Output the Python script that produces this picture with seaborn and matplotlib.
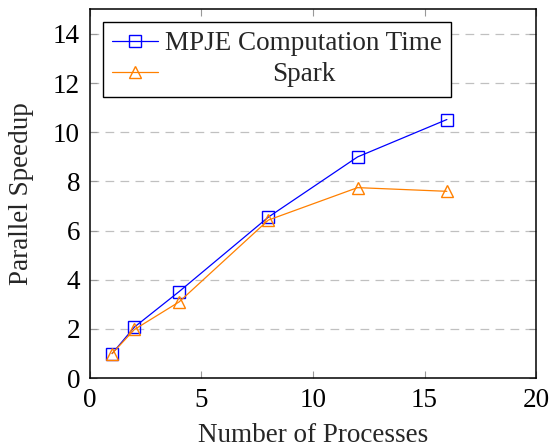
import matplotlib
matplotlib.use("Agg")
import matplotlib.pyplot as plt
import seaborn as sns
import pandas as pd

processes = [1, 2, 4, 8, 12, 16]
mpje_speedup = [1.0, 2.08, 3.52, 6.55, 9.0, 10.52]
spark_speedup = [1.0, 1.98, 3.1, 6.43, 7.75, 7.6]
series_names = ["MPJE Computation Time", "Spark"]
x_ticks = [0, 5, 10, 15, 20]
y_ticks = [0, 2, 4, 6, 8, 10, 12, 14]

sns.set_theme(style="white")
plt.rcParams["font.family"] = ["Liberation Serif", "DejaVu Serif"]

FS = 19.5
fig = plt.figure(figsize=(5.51, 4.47), dpi=100)
ax = fig.add_axes([0.163, 0.154, 0.81, 0.825])

df_m = pd.DataFrame({"x": processes, "y": mpje_speedup})
df_s = pd.DataFrame({"x": processes, "y": spark_speedup})

sns.lineplot(data=df_m, x="x", y="y", ax=ax, color="#0000ff", marker="s",
             markersize=8.5, mfc="none", mec="#0000ff", mew=1.0, lw=0.9,
             label=series_names[0])
sns.lineplot(data=df_s, x="x", y="y", ax=ax, color="#ff8000", marker="^",
             markersize=8, mfc="none", mec="#ff8000", mew=1.0, lw=0.9,
             label=series_names[1])

ax.set_xlim(0, 20)
ax.set_ylim(0, 15)
ax.set_xticks(x_ticks)
ax.set_yticks(y_ticks)
ax.tick_params(direction="in", length=5, width=0.8, color="#999999",
               top=True, right=True, bottom=True, left=True,
               labelsize=FS, labelcolor="black", pad=7)
for t in ax.get_yticks():
    if t > 0:
        ax.axhline(t, color="#c0c0c0", lw=0.9, ls=(0, (7, 5)), zorder=0)
for s in ax.spines.values():
    s.set_color("black")
    s.set_linewidth(1.1)
ax.set_xlabel("Number of Processes", fontsize=FS, labelpad=7)
ax.set_ylabel("Parallel Speedup", fontsize=FS, labelpad=14)

leg = ax.legend(loc="upper left", bbox_to_anchor=(0.029, 0.966), fontsize=FS,
                frameon=True, fancybox=False, edgecolor="black",
                framealpha=1, handlelength=1.7, handletextpad=0.25,
                borderpad=0.35, labelspacing=0.22, borderaxespad=0)
leg.get_frame().set_linewidth(1.0)

fig.canvas.draw()
r = fig.canvas.get_renderer()
texts = leg.get_texts()
w0 = texts[0].get_window_extent(r).width
w1 = texts[1].get_window_extent(r).width
texts[1].set_x((w0 - w1) / 2)

fig.savefig("out.png", dpi=100)
